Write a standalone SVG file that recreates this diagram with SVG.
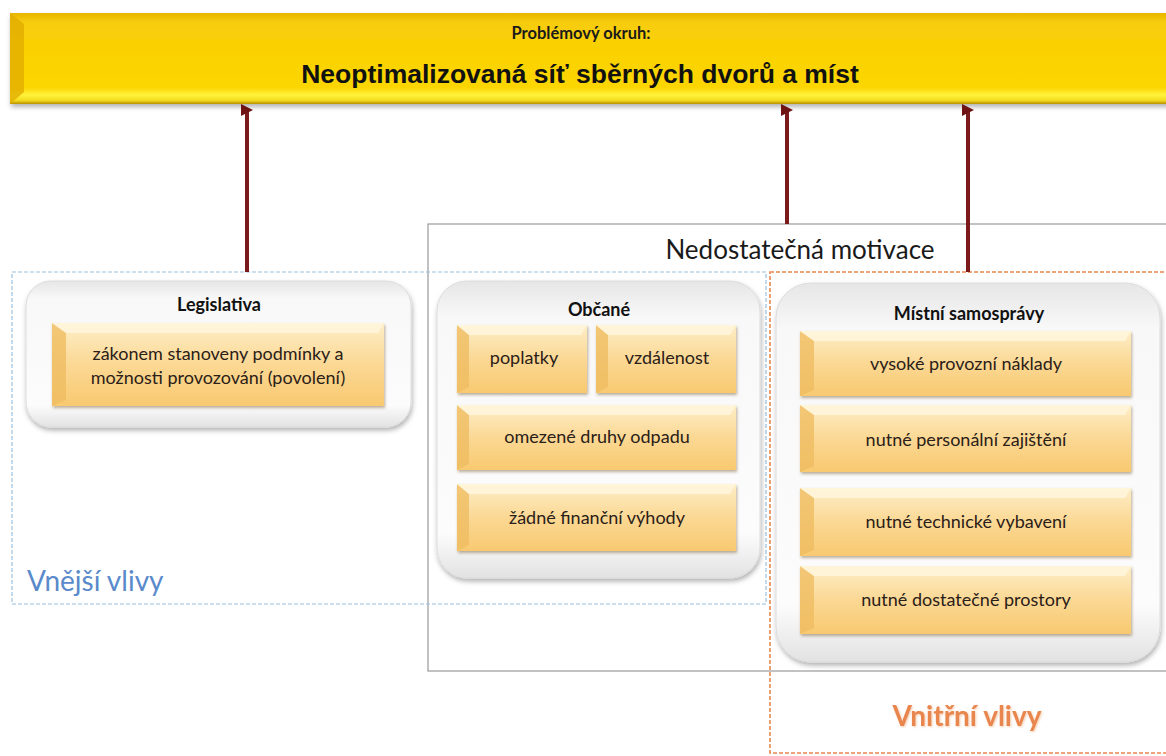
<svg xmlns="http://www.w3.org/2000/svg" width="1166" height="756" viewBox="0 0 1166 756">
<defs>
<linearGradient id="bannerG" x1="0" y1="0" x2="0" y2="1">
<stop offset="0" stop-color="#e7b600"/>
<stop offset="0.1" stop-color="#f7cc0c"/>
<stop offset="0.5" stop-color="#fbd300"/>
<stop offset="0.82" stop-color="#fcd602"/>
<stop offset="0.9" stop-color="#fff23c"/>
<stop offset="0.96" stop-color="#f4dc20"/>
<stop offset="1" stop-color="#b89000"/>
</linearGradient>
<linearGradient id="boxG" x1="0" y1="0" x2="0" y2="1">
<stop offset="0" stop-color="#fdeec7"/>
<stop offset="0.5" stop-color="#fbd894"/>
<stop offset="1" stop-color="#f8c970"/>
</linearGradient>
<linearGradient id="contG" x1="0" y1="0" x2="0" y2="1">
<stop offset="0" stop-color="#e6e6e6"/>
<stop offset="0.12" stop-color="#f8f8f8"/>
<stop offset="0.85" stop-color="#fcfcfc"/>
<stop offset="1" stop-color="#e2e2e2"/>
</linearGradient>
<filter id="sh" x="-10%" y="-10%" width="120%" height="130%">
<feDropShadow dx="1" dy="3" stdDeviation="2.5" flood-color="#000" flood-opacity="0.3"/>
</filter>
<filter id="shb" x="-10%" y="-10%" width="120%" height="130%">
<feDropShadow dx="1" dy="2" stdDeviation="1.5" flood-color="#6b5020" flood-opacity="0.45"/>
</filter>
<filter id="glow" x="-10%" y="-30%" width="120%" height="160%">
<feDropShadow dx="1" dy="1" stdDeviation="1" flood-color="#f3c9a8" flood-opacity="0.9"/>
</filter>
<marker id="ah" markerWidth="3" markerHeight="3" refX="1.5" refY="1.5" orient="auto" markerUnits="strokeWidth">
<path d="M0,3 L1.5,0 L3,3 Z" fill="#6e1414"/>
</marker>
<style>
.t{font-family:Lato,"Noto Sans",sans-serif;fill:#1a1a1a;text-anchor:middle}
.ti{font-family:Lato,"Noto Sans",sans-serif;font-weight:bold;font-size:18px;fill:#111;text-anchor:middle}
.bt{font-family:Lato,"Noto Sans",sans-serif;font-size:18px;fill:#2a2018;text-anchor:middle}
.bx{fill:url(#boxG);filter:url(#shb)}
.bl{fill:#efbd62;opacity:0.8}
.btp{fill:#fff6dc;opacity:0.85}
.cont{fill:url(#contG);stroke:#dcdcdc;stroke-width:1;filter:url(#sh)}
.conn{stroke:#7a1a1a;stroke-width:4;fill:none;marker-start:url(#ah)}
</style>
</defs>
<rect width="1166" height="756" fill="#ffffff"/>

<g id="regions">
<rect x="428" y="224" width="760" height="447" fill="none" stroke="#9a9a9a" stroke-width="1.2"/>
<rect x="12" y="272" width="754" height="332" fill="none" stroke="#9cc0e0" stroke-width="1.2" stroke-dasharray="4,2"/>
<rect x="770" y="272" width="420" height="481" fill="none" stroke="#e8874e" stroke-width="1.6" stroke-dasharray="4,2"/>
<text x="800" y="259" class="t" style="font-size:26px">Nedostatečná motivace</text>
<text x="27" y="591" style="font-family:Lato,'Noto Sans',sans-serif;font-size:28px;fill:#5a8acb">Vnější vlivy</text>
<text x="967" y="726" filter="url(#glow)" style="font-family:Lato,'Noto Sans',sans-serif;font-size:28px;font-weight:bold;fill:#e8864e;text-anchor:middle">Vnitřní vlivy</text>
</g>

<g id="banner">
<rect x="10" y="13" width="1170" height="91" fill="url(#bannerG)" filter="url(#sh)"/>
<polygon points="10,13 24,24 24,92 10,104" fill="#e2ac00" opacity="0.8"/>
<text x="581" y="39" class="t" style="font-weight:bold;font-size:16.5px">Problémový okruh:</text>
<text x="580" y="83" style="font-family:'Liberation Sans',Arial,sans-serif;font-weight:bold;font-size:26.5px;fill:#111;text-anchor:middle">Neoptimalizovaná síť sběrných dvorů a míst</text>
</g>

<g id="connectors">
<line x1="247" y1="110" x2="247" y2="272" class="conn"/>
<line x1="787" y1="110" x2="787" y2="224" class="conn"/>
<line x1="968" y1="110" x2="968" y2="272" class="conn"/>
</g>

<g id="legislativa">
<rect x="26" y="281" width="385" height="146" rx="25" class="cont"/>
<text x="219" y="311" class="ti">Legislativa</text>
<rect x="52" y="323" width="332" height="83" class="bx"/>
<polygon points="52,323 66,333 66,400 52,406" class="bl"/>
<polygon points="52,323 384,323 378,333 66,333" class="btp"/>
<text x="218" y="360" class="bt">zákonem stanoveny podmínky a</text>
<text x="218" y="384" class="bt">možnosti provozování (povolení)</text>
</g>

<g id="obcane">
<rect x="437" y="281" width="323" height="297" rx="30" class="cont"/>
<text x="599" y="316" class="ti">Občané</text>
</g>
<g id="poplatky">
<rect x="457" y="325" width="130" height="68" class="bx"/>
<polygon points="457,325 469,335 469,387 457,393" class="bl"/>
<polygon points="457,325 587,325 581,335 469,335" class="btp"/>
<text x="524" y="364" class="bt">poplatky</text>
</g>
<g id="vzdalenost">
<rect x="596" y="325" width="140" height="68" class="bx"/>
<polygon points="596,325 608,335 608,387 596,393" class="bl"/>
<polygon points="596,325 736,325 730,335 608,335" class="btp"/>
<text x="667" y="364" class="bt">vzdálenost</text>
</g>
<g id="omezene">
<rect x="457" y="405" width="279" height="65" class="bx"/>
<polygon points="457,405 469,415 469,464 457,470" class="bl"/>
<polygon points="457,405 736,405 730,415 469,415" class="btp"/>
<text x="597" y="443" class="bt">omezené druhy odpadu</text>
</g>
<g id="zadne">
<rect x="457" y="484" width="279" height="67" class="bx"/>
<polygon points="457,484 469,494 469,545 457,551" class="bl"/>
<polygon points="457,484 736,484 730,494 469,494" class="btp"/>
<text x="597" y="524" class="bt">žádné finanční výhody</text>
</g>

<g id="samospravy">
<rect x="776" y="283" width="384" height="379" rx="35" class="cont"/>
<text x="969" y="320" class="ti">Místní samosprávy</text>
</g>
<g id="naklady">
<rect x="800" y="331" width="331" height="65" class="bx"/>
<polygon points="800,331 814,341 814,390 800,396" class="bl"/>
<polygon points="800,331 1131,331 1125,341 814,341" class="btp"/>
<text x="966" y="370" class="bt">vysoké provozní náklady</text>
</g>
<g id="personalni">
<rect x="800" y="405" width="331" height="67" class="bx"/>
<polygon points="800,405 814,415 814,466 800,472" class="bl"/>
<polygon points="800,405 1131,405 1125,415 814,415" class="btp"/>
<text x="966" y="446" class="bt">nutné personální zajištění</text>
</g>
<g id="technicke">
<rect x="800" y="488" width="331" height="68" class="bx"/>
<polygon points="800,488 814,498 814,550 800,556" class="bl"/>
<polygon points="800,488 1131,488 1125,498 814,498" class="btp"/>
<text x="966" y="528" class="bt">nutné technické vybavení</text>
</g>
<g id="prostory">
<rect x="800" y="566" width="331" height="68" class="bx"/>
<polygon points="800,566 814,576 814,628 800,634" class="bl"/>
<polygon points="800,566 1131,566 1125,576 814,576" class="btp"/>
<text x="966" y="606" class="bt">nutné dostatečné prostory</text>
</g>
</svg>
